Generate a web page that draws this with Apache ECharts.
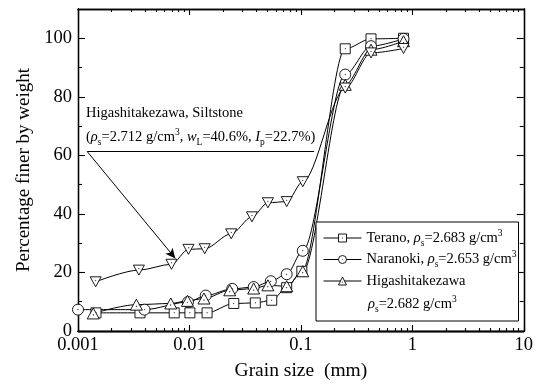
<!DOCTYPE html>
<html>
<head>
<meta charset="utf-8">
<script src="https://cdn.jsdelivr.net/npm/echarts@6/dist/echarts.min.js"></script>
<style>
  html, body { margin: 0; padding: 0; background: #fff; }
  #chart { width: 536px; height: 392px; }
</style>
</head>
<body>
<div id="chart"></div>
<script>
// grain size (mm) and percentage finer
const teranoX = [0.00145, 0.0036, 0.0073, 0.0101, 0.0144, 0.025, 0.039, 0.0548, 0.0746, 0.102, 0.25, 0.426, 0.834];
const teranoY = [6.2, 6.2, 6.2, 6.2, 6.2, 9.4, 9.6, 10.5, 14.8, 20.4, 96.4, 99.8, 100];

const naranokiX = [0.001, 0.00395, 0.0097, 0.0140, 0.0242, 0.0377, 0.0537, 0.0746, 0.104, 0.25, 0.426, 0.834];
const naranokiY = [7.3, 7.3, 9.9, 12.1, 14.4, 15.0, 17.0, 19.4, 27.4, 87.6, 97.3, 99.8];

const higashiX = [0.00137, 0.00334, 0.0068, 0.0096, 0.0135, 0.023, 0.0377, 0.0506, 0.0746, 0.104, 0.25, 0.426, 0.834];
const higashiY = [6.0, 9.0, 9.4, 10.3, 11.1, 13.9, 14.5, 15.6, 15.3, 20.4, 84.1, 96.1, 99.0];

const siltX = [0.00144, 0.00352, 0.0069, 0.0098, 0.0137, 0.0237, 0.0364, 0.0506, 0.0746, 0.104, 0.25, 0.426, 0.834];
const siltY = [16.8, 20.8, 22.8, 27.9, 28.1, 33.2, 39.0, 43.8, 44.2, 51.0, 83.0, 95.0, 96.5];

const xMajorTicks = [0.001, 0.01, 0.1, 1, 10];
const xMinorTicks = [];
[0.001, 0.01, 0.1, 1].forEach(d => { for (let k = 2; k <= 9; k++) xMinorTicks.push(d * k); });
const yMajorTicks = [0, 20, 40, 60, 80, 100];
const yMinorTicks = [10, 30, 50, 70, 90];

const FONT = 'Liberation Serif';

const zip = (xs, ys) => xs.map((x, i) => [x, ys[i]]);

// markers with a tiny dot in the middle
const dot = ' M4.85,4.85 L5.15,4.85 L5.15,5.15 L4.85,5.15 Z';
const symSquare = 'path://M0,0 L10,0 L10,10 L0,10 Z' + dot;
const symCircle = 'path://M0,5 A5,5 0 1,0 10,5 A5,5 0 1,0 0,5 Z' + dot;
const symTri = 'path://M5,0 L10,9 L0,9 Z M4.85,5.6 L5.15,5.6 L5.15,5.9 L4.85,5.9 Z';
const symTriDown = 'path://M0,0 L10,0 L5,9 Z M4.85,3.1 L5.15,3.1 L5.15,3.4 L4.85,3.4 Z';

const rich = {
  i: { fontFamily: FONT, fontStyle: 'italic', fontSize: 14.5, color: '#000', lineHeight: 20 },
  sub: { fontFamily: FONT, fontSize: 9.5, color: '#000', lineHeight: 12, verticalAlign: 'bottom' },
  sup: { fontFamily: FONT, fontSize: 9.5, color: '#000', lineHeight: 12, verticalAlign: 'top' }
};

const legendText = {
  Terano: 'Terano, {i|ρ}{sub|s}=2.683 g/cm{sup|3}',
  Naranoki: 'Naranoki, {i|ρ}{sub|s}=2.653 g/cm{sup|3}',
  Higashitakezawa: 'Higashitakezawa'
};

function lineSeries(name, xs, ys, symbol, size) {
  return {
    name: name,
    type: 'line',
    data: zip(xs, ys),
    xAxisIndex: 0,
    yAxisIndex: 0,
    smooth: 0.3,
    smoothMonotone: 'x',
    clip: false,
    symbol: symbol,
    symbolSize: size,
    showAllSymbol: true,
    lineStyle: { color: '#000', width: 1 },
    itemStyle: { color: '#fff', borderColor: '#000', borderWidth: 0.9 },
    emphasis: { disabled: true },
    z: 3
  };
}

const axisLineStyle = { show: true, onZero: false, lineStyle: { color: '#000', width: 1.3 } };
const tickLine = { color: '#000', width: 1.1 };

// tick-only x axes work in log10 space so ticks land where the log axis puts them
function xTickAxis(position, ticks, len) {
  return {
    type: 'value',
    min: -3,
    max: 1,
    position: position,
    axisLine: axisLineStyle,
    splitLine: { show: false },
    axisLabel: { show: false },
    axisTick: {
      show: true, inside: true, length: len,
      customValues: ticks.map(v => Math.log10(v)),
      lineStyle: tickLine
    }
  };
}

function yAxisDef(position, ticks, len, labels) {
  return {
    type: 'value',
    min: 0,
    max: 110,
    position: position,
    axisLine: axisLineStyle,
    splitLine: { show: false },
    axisTick: { show: true, inside: true, length: len, customValues: ticks, lineStyle: tickLine },
    axisLabel: labels ? {
      show: true, customValues: yMajorTicks, fontFamily: FONT, fontSize: 18.5, color: '#000', margin: 6
    } : { show: false }
  };
}

const xAxes = [
  {
    type: 'log',
    logBase: 10,
    min: 0.001,
    max: 10,
    position: 'bottom',
    axisLine: axisLineStyle,
    splitLine: { show: false },
    axisTick: { show: false },
    axisLabel: {
      show: true, fontFamily: FONT, fontSize: 18.5, color: '#000', margin: 5,
      formatter: v => String(+(+v).toPrecision(1))
    },
    name: 'Grain size  (mm)', nameLocation: 'middle', nameGap: 30,
    nameTextStyle: { fontFamily: FONT, fontSize: 19.5, color: '#000' }
  },
  xTickAxis('bottom', xMajorTicks, 6),
  xTickAxis('bottom', xMinorTicks, 3),
  xTickAxis('top', xMajorTicks, 6),
  xTickAxis('top', xMinorTicks, 3)
];

const yAxes = [
  yAxisDef('left', yMajorTicks, 7, true),
  yAxisDef('left', yMinorTicks, 4, false),
  yAxisDef('right', yMajorTicks, 7, false),
  yAxisDef('right', yMinorTicks, 4, false)
];
Object.assign(yAxes[0], {
  name: 'Percentage finer by weight', nameLocation: 'middle', nameGap: 44,
  nameTextStyle: { fontFamily: FONT, fontSize: 19, color: '#000' }
});

const silt = lineSeries('Siltstone', siltX, siltY, symTriDown, [11, 10]);
silt.markLine = {
  silent: true,
  animation: false,
  symbol: ['none', 'arrow'],
  symbolSize: [7, 10],
  label: { show: false },
  lineStyle: { color: '#000', width: 1, type: 'solid' },
  emphasis: { disabled: true },
  data: [
    [{ coord: [0.00121, 61.3], symbol: 'none' }, { coord: [0.1315, 61.3], symbol: 'none' }],
    [{ coord: [0.00121, 61.3] }, { coord: [0.00747, 24.8] }]
  ]
};

const chart = echarts.init(document.getElementById('chart'), null, { renderer: 'canvas' });

chart.setOption({
  animation: false,
  backgroundColor: '#fff',
  grid: { left: 78, right: 9, top: 9, bottom: 61, containLabel: false },
  xAxis: xAxes,
  yAxis: yAxes,
  legend: {
    data: ['Terano', 'Naranoki', 'Higashitakezawa'],
    orient: 'vertical',
    left: 316,
    top: 222,
    itemWidth: 38,
    itemHeight: 10,
    itemGap: 1.5,
    padding: [6, 2, 30, 7],
    borderColor: '#000',
    borderWidth: 1,
    backgroundColor: '#fff',
    selectedMode: false,
    itemStyle: { borderWidth: 0.9 },
    lineStyle: { width: 1 },
    formatter: name => legendText[name],
    textStyle: { fontFamily: FONT, fontSize: 14.5, color: '#000', lineHeight: 20, rich: rich }
  },
  graphic: [
    {
      type: 'text', left: 86, top: 106, silent: true,
      style: { text: 'Higashitakezawa, Siltstone', fontFamily: FONT, fontSize: 14.5, fill: '#000' }
    },
    {
      type: 'text', left: 86, top: 127, silent: true,
      style: {
        text: '({i|ρ}{sub|s}=2.712 g/cm{sup|3}, {i|w}{sub|L}=40.6%, {i|I}{sub|p}=22.7%)',
        fontFamily: FONT, fontSize: 14.5, fill: '#000', lineHeight: 20, rich: rich
      }
    },
    {
      type: 'text', left: 368, top: 294, silent: true, z: 100,
      style: {
        text: '{i|ρ}{sub|s}=2.682 g/cm{sup|3}',
        fontFamily: FONT, fontSize: 14.5, fill: '#000', lineHeight: 20, rich: rich
      }
    }
  ],
  series: [
    lineSeries('Terano', teranoX, teranoY, symSquare, 10),
    lineSeries('Naranoki', naranokiX, naranokiY, symCircle, 11),
    lineSeries('Higashitakezawa', higashiX, higashiY, symTri, [12, 11]),
    silt
  ]
});
</script>
</body>
</html>
